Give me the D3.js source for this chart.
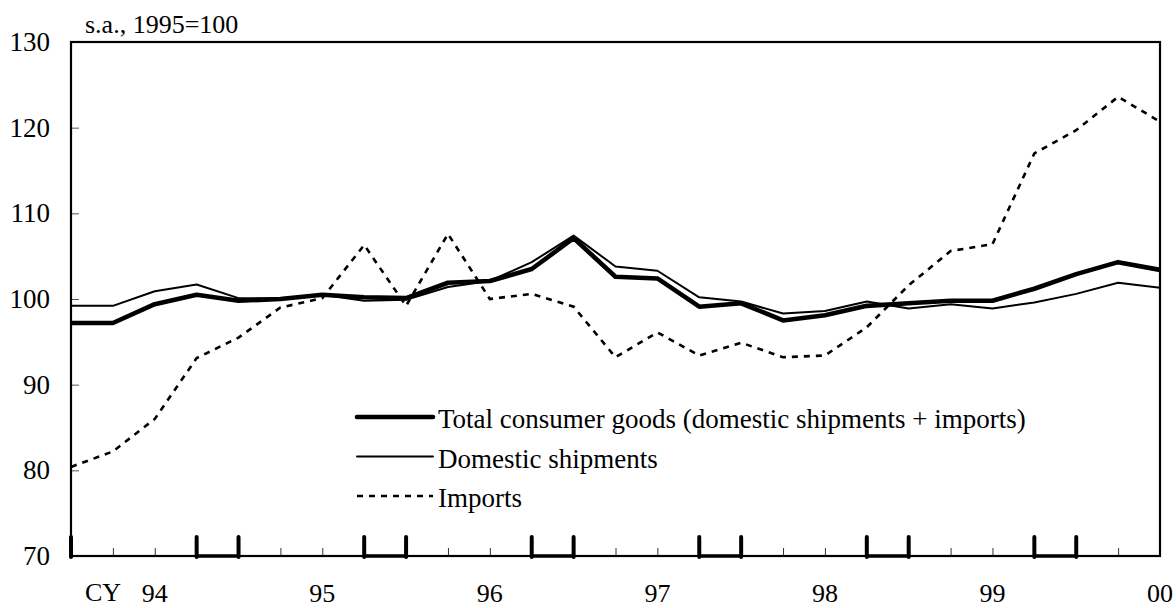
<!DOCTYPE html>
<html>
<head>
<meta charset="utf-8">
<script src="https://cdn.jsdelivr.net/npm/d3@7"></script>
<style>
  html, body { margin: 0; padding: 0; background: #fff; }
  svg { display: block; font-family: "Liberation Serif", "Times New Roman", serif; }
</style>
</head>
<body>
<svg id="chart" width="1176" height="608"></svg>
<script>
// Quarterly index values (s.a., 1995=100), one entry per quarter on the axis
const totalGoods = [97.2, 97.2, 99.4, 100.5, 99.8, 100.0, 100.5, 100.2, 100.1, 101.9, 102.1, 103.5, 107.1, 102.6, 102.4, 99.1, 99.5, 97.5, 98.1, 99.2, 99.5, 99.8, 99.8, 101.2, 102.9, 104.3, 103.4];
const domesticShipments = [99.2, 99.2, 100.9, 101.7, 100.1, 100.1, 100.5, 99.8, 99.9, 101.4, 102.1, 104.3, 107.4, 103.8, 103.3, 100.2, 99.7, 98.3, 98.6, 99.7, 98.9, 99.4, 98.9, 99.6, 100.6, 101.9, 101.3];
const imports = [80.4, 82.2, 86.0, 93.1, 95.5, 99.0, 100.1, 106.3, 99.2, 107.6, 100.0, 100.6, 99.1, 93.2, 96.1, 93.4, 94.9, 93.2, 93.4, 96.7, 101.6, 105.6, 106.4, 117.0, 119.7, 123.6, 120.7];

// Year labels and the quarter slot each one sits under
const yearLabels = ["94", "95", "96", "97", "98", "99", "00"];
const yearLabelSlots = [2, 6, 10, 14, 18, 22, 26];
// Quarters marked with tall ticks (pairs joined by a heavier axis segment)
const markedPairs = [[3, 4], [7, 8], [11, 12], [15, 16], [19, 20], [23, 24]];
const yTicks = [70, 80, 90, 100, 110, 120, 130];

const legendNames = ["Total consumer goods (domestic shipments + imports)", "Domestic shipments", "Imports"];

const svg = d3.select("#chart");
const plot = { left: 71, right: 1160, top: 42, bottom: 556 };

const quarterIdx = d3.range(totalGoods.length);
const x = d3.scaleLinear().domain([0, quarterIdx.length - 1]).range([plot.left, plot.right]);
const y = d3.scaleLinear().domain([70, 130]).range([plot.bottom, plot.top]);

const line = d3.line().x((d, i) => x(i)).y(d => y(d));

// Series
svg.append("path").datum(imports)
  .attr("d", line).attr("fill", "none").attr("stroke", "#000")
  .attr("stroke-width", 2.6).attr("stroke-dasharray", "6,6");
svg.append("path").datum(domesticShipments)
  .attr("d", line).attr("fill", "none").attr("stroke", "#000")
  .attr("stroke-width", 2).attr("stroke-linejoin", "round");
svg.append("path").datum(totalGoods)
  .attr("d", line).attr("fill", "none").attr("stroke", "#000")
  .attr("stroke-width", 4.6).attr("stroke-linejoin", "round");

// Y axis ticks (inward) and labels
const yAxis = d3.axisLeft(y).tickValues(yTicks).tickSize(-8).tickPadding(22).tickFormat(d3.format("d"));
const yG = svg.append("g").attr("transform", `translate(${plot.left},0)`).call(yAxis);
yG.select(".domain").remove();
yG.selectAll(".tick line").attr("stroke", "#555").attr("stroke-width", 1);
yG.selectAll(".tick text").attr("font-size", 27).attr("font-family", "Liberation Serif")
  .attr("fill", "#000").attr("x", 50 - plot.left).attr("text-anchor", "end").attr("dy", "0.32em");

// X axis: a small tick at every quarter
const xAxis = d3.axisBottom(x).tickValues(quarterIdx).tickSize(-8).tickFormat("");
const xG = svg.append("g").attr("transform", `translate(0,${plot.bottom})`).call(xAxis);
xG.select(".domain").remove();
xG.selectAll(".tick line").attr("stroke", "#333").attr("stroke-width", 1);

// Frame
svg.append("rect")
  .attr("x", plot.left).attr("y", plot.top)
  .attr("width", plot.right - plot.left).attr("height", plot.bottom - plot.top)
  .attr("fill", "none").attr("stroke", "#000").attr("stroke-width", 2.2);

// Heavier axis segments and tall ticks for the marked quarter pairs
const marks = svg.append("g");
markedPairs.forEach(([a, b]) => {
  marks.append("line")
    .attr("x1", x(a)).attr("x2", x(b)).attr("y1", plot.bottom).attr("y2", plot.bottom)
    .attr("stroke", "#000").attr("stroke-width", 3.6);
  [a, b].forEach(q => {
    marks.append("line")
      .attr("x1", x(q)).attr("x2", x(q)).attr("y1", plot.bottom + 1).attr("y2", plot.bottom - 19)
      .attr("stroke", "#000").attr("stroke-width", 4).attr("stroke-linecap", "round");
  });
});
marks.append("line")
  .attr("x1", x(0)).attr("x2", x(0)).attr("y1", plot.bottom + 1).attr("y2", plot.bottom - 19)
  .attr("stroke", "#000").attr("stroke-width", 4).attr("stroke-linecap", "round");

// Year labels
svg.append("g").selectAll("text").data(yearLabels).join("text")
  .attr("x", (d, i) => x(yearLabelSlots[i])).attr("y", 602)
  .attr("text-anchor", "middle").attr("font-size", 26).text(d => d);
svg.append("text").attr("x", 85).attr("y", 601).attr("font-size", 26).text("CY");

// Unit note
svg.append("text").attr("x", 85).attr("y", 33).attr("font-size", 26).text("s.a., 1995=100");

// Legend
const legendStyles = [
  { w: 4.6, dash: null },
  { w: 2, dash: null },
  { w: 2.6, dash: "6,6" }
];
const legend = svg.append("g");
legendNames.forEach((name, i) => {
  const ly = 417 + i * 39.5;
  legend.append("line")
    .attr("x1", 357).attr("x2", 433).attr("y1", ly).attr("y2", ly)
    .attr("stroke", "#000").attr("stroke-width", legendStyles[i].w)
    .attr("stroke-linecap", legendStyles[i].dash ? "butt" : "round")
    .attr("stroke-dasharray", legendStyles[i].dash);
  legend.append("text").attr("x", 438).attr("y", ly + 11).attr("font-size", 27).text(name);
});
</script>
</body>
</html>
